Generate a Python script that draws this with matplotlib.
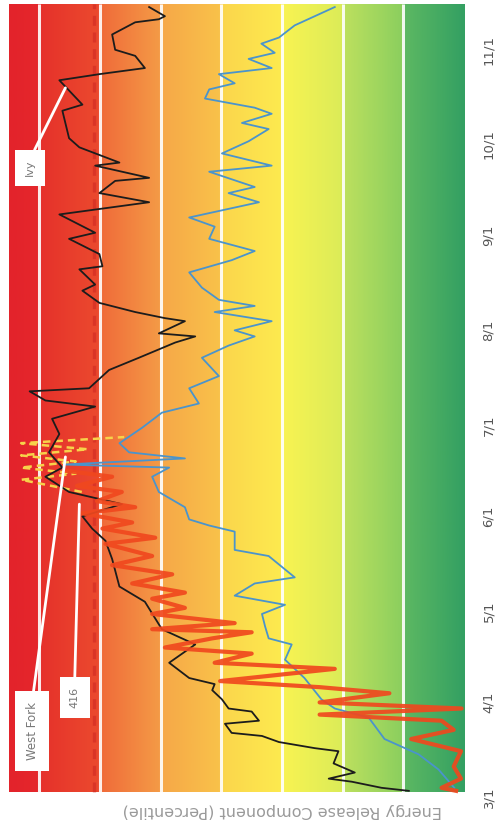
import numpy as np
import matplotlib
matplotlib.use('Agg')
import matplotlib.pyplot as plt
from matplotlib.colors import LinearSegmentedColormap

# days counted from March 1, ERC percentile values
ivy_day = [2, 3, 5, 6, 8, 11, 15, 16, 18, 20, 21, 24, 25, 28, 29, 32, 35, 37, 39, 44,
           50, 55, 64, 69, 78, 84, 88, 92, 96, 100, 105, 108, 113, 119, 124, 128, 130,
           133, 134, 140, 144, 149, 151, 152, 156, 157, 159, 162, 166, 168, 173, 174,
           178, 183, 185, 191, 195, 198, 202, 203, 207, 208, 213, 216, 225, 227, 235,
           237, 239, 243, 245, 250, 254, 255, 256, 259]
ivy_erc = [9.1, 13.6, 18.5, 22.3, 18.0, 21.5, 20.7, 24.6, 30.5, 33.3, 38.3, 39.4, 33.8,
           35.0, 38.8, 39.9, 41.5, 41.1, 45.3, 48.6, 44.3, 49.8, 52.6, 56.8, 58.0, 59.1,
           61.3, 62.9, 56.4, 65.1, 69.0, 66.2, 68.4, 66.7, 67.9, 60.8, 69.0, 71.6, 61.8,
           58.5, 53.6, 47.6, 44.3, 50.3, 46.0, 49.3, 54.2, 60.1, 62.9, 60.8, 63.4, 59.6,
           60.1, 65.1, 60.8, 66.7, 51.9, 60.1, 57.5, 51.9, 60.8, 56.8, 63.4, 65.1, 66.2,
           62.9, 66.7, 60.1, 52.6, 54.2, 57.5, 58.0, 54.2, 50.3, 49.3, 51.9]

wf_day = [3, 9, 14, 19, 26, 29, 32, 39, 45, 50, 52, 56, 60, 63, 66, 70, 72, 79, 81, 87,
          89, 91, 95, 100, 105, 108, 109, 111, 113, 116, 121, 126, 129, 134, 138, 144,
          148, 151, 153, 156, 159, 161, 163, 167, 172, 176, 179, 183, 187, 190, 195, 198,
          200, 205, 207, 211, 215, 219, 221, 224, 226, 229, 232, 234, 237, 239, 242, 244,
          247, 249, 253, 256, 259]
wf_erc = [1.6, 4.2, 7.5, 13.1, 15.7, 21.3, 23.5, 26.3, 29.5, 28.4, 32.2, 32.8, 33.3, 29.5,
          37.8, 34.5, 27.9, 32.2, 37.8, 37.8, 42.0, 45.3, 46.0, 50.3, 51.4, 48.6, 65.9,
          46.0, 55.2, 56.8, 53.1, 49.8, 43.7, 45.3, 40.4, 43.2, 38.8, 34.5, 37.8, 31.7,
          41.1, 34.5, 40.4, 43.2, 45.3, 38.3, 34.5, 42.0, 41.1, 45.3, 33.8, 38.8, 34.5,
          42.0, 31.7, 39.9, 35.5, 32.2, 36.6, 31.7, 34.5, 42.7, 42.0, 37.8, 40.4, 31.7,
          35.5, 31.2, 33.4, 30.5, 27.9, 24.6, 21.3]

r416_day = [2, 3, 6, 10, 15, 19, 22, 25, 27, 29, 31, 34, 36, 38, 42, 44, 47, 49, 52, 54,
            55, 57, 60, 62, 65, 67, 70, 73, 76, 79, 83, 85, 88, 90, 93, 95, 97, 100, 102,
            105, 107]
r416_erc = [1.3, 3.7, 0.5, 1.7, 0.5, 8.7, 1.7, 3.7, 23.8, 0.4, 23.8, 12.3, 23.8, 40.2,
            21.3, 41.1, 35.0, 49.3, 41.5, 35.0, 51.4, 37.8, 51.4, 46.0, 51.4, 46.0, 54.7,
            48.1, 58.0, 51.4, 59.1, 50.9, 59.6, 54.7, 62.9, 54.2, 60.5, 56.4, 63.8, 58.0,
            65.9]

max_day = [100, 104, 106, 108, 110, 112, 114, 116, 118]
max_erc = [63, 73, 64, 73, 64, 73, 62, 73, 56]

threshold = 61
grid_levels = [10, 20, 30, 40, 50, 60, 70]
month_days = [0, 31, 61, 92, 122, 153, 184, 214, 245]
month_labels = ['3/1', '4/1', '5/1', '6/1', '7/1', '8/1', '9/1', '10/1', '11/1']
season = (1.5, 260)

# background gradient, red (high) on the left to green (low) on the right
stops = [(75, '#e3232b'), (70.3, '#e5272b'), (69.7, '#e6322b'), (60.3, '#eb4a2e'),
         (59.7, '#f06c3a'), (50.3, '#f49a46'), (49.7, '#f6a848'), (40.3, '#f9c24a'),
         (39.7, '#fbd64c'), (30.3, '#fdea4f'), (29.7, '#f8f352'), (20.3, '#dcec58'),
         (19.7, '#bce05e'), (10.3, '#8ccf5e'), (9.7, '#5cb862'), (0, '#34a062')]
cmap = LinearSegmentedColormap.from_list('erc', [((75 - v) / 75, c) for v, c in stops])

fig = plt.figure(figsize=(4.98, 8.21), dpi=100)
ax = fig.add_axes([9 / 498, 21 / 821, 455 / 498, 796 / 821])

grad = np.linspace(0, 1, 600).reshape(1, -1)
ax.imshow(grad, cmap=cmap, extent=[75, 0, season[0], season[1]], aspect='auto', zorder=0,
          interpolation='bilinear')

ax.vlines(grid_levels, season[0], season[1], color='white', lw=2.2, alpha=0.9, zorder=1)
ax.vlines(threshold, season[0], season[1], color='#c81e1e', ls=(0, (3, 2)), lw=2.4,
          alpha=0.45, zorder=1)

ax.plot(max_erc, max_day, color='#f7d24a', ls=(0, (3, 2)), lw=1.8, zorder=2)
ax.plot(wf_erc, wf_day, color='#4a94cc', lw=1.3, zorder=3)
ax.plot(ivy_erc, ivy_day, color='#1c1c1c', lw=1.3, zorder=4)
ax.plot(r416_erc, r416_day, color='#f0481e', lw=3.0, alpha=0.92, zorder=5,
        solid_joinstyle='round')

ax.set_xlim(75, 0)
ax.set_ylim(-1, 260)
ax.set_xticks([])
ax.yaxis.tick_right()
ax.set_yticks(month_days)
ax.set_yticklabels(month_labels, rotation=90, va='center', ha='left')
ax.tick_params(axis='y', length=0, pad=13, labelsize=9.5, labelcolor='#555555')
for s in ax.spines.values():
    s.set_visible(False)

box = dict(boxstyle='square,pad=0.9', fc='white', ec='none')
arrow = dict(arrowstyle='-', color='white', lw=2, shrinkA=0, shrinkB=0, relpos=(0.5, 1.0))
ax.annotate('Ivy', xy=(65.7, 232.5), xytext=(71.6, 206.2), rotation=90, ha='center',
            va='center', fontsize=8, color='#777777', bbox=box, arrowprops=arrow, zorder=6)
ax.annotate('416', xy=(63.4, 96), xytext=(64.2, 32.5), rotation=90, ha='center',
            va='center', fontsize=8, color='#777777', bbox=box, arrowprops=arrow, zorder=6)
ax.annotate('West Fork', xy=(65.7, 111.5), xytext=(71.2, 21.6), rotation=90, ha='center',
            va='center', fontsize=8.5, color='#777777', bbox=box, arrowprops=arrow, zorder=6)

fig.text(282 / 498, 1 - 810 / 821, 'Energy Release Component (Percentile)', rotation=180,
         ha='center', va='center', fontsize=11.5, color='#9a9a9a')

fig.savefig('out.png', dpi=100)
